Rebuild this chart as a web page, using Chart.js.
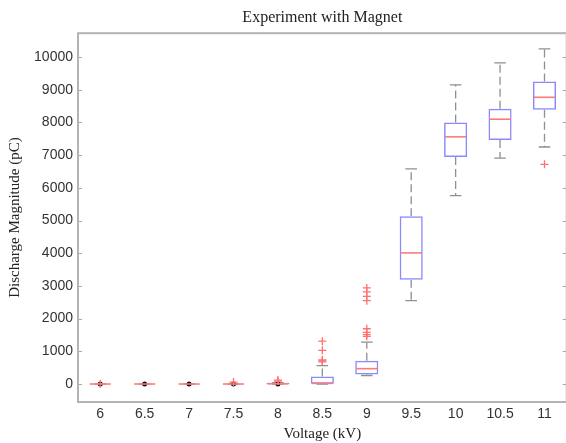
<!DOCTYPE html>
<html><head><meta charset="utf-8">
<script src="https://cdn.jsdelivr.net/npm/chart.js@4"></script>
<style>html,body{margin:0;padding:0;overflow:hidden;background:#fff}</style>
</head><body>
<canvas id="c" width="572" height="443"></canvas>
<script>
// Categories (voltage, kV)
const voltages = ['6','6.5','7','7.5','8','8.5','9','9.5','10','10.5','11'];
// Box plot statistics (pC)
const lowerWhisker = [0, 0, 0, 0, 0, 0, 260, 2550, 5760, 6910, 7250];
const q1           = [0, 0, 0, 0, 0, 5, 290, 3190, 6940, 7460, 8390];
const median       = [0, 0, 0, 0, 5, 20, 470, 4010, 7560, 8100, 8770];
const q3           = [0, 0, 0, 0, 35, 230, 710, 5130, 8000, 8420, 9250];
const upperWhisker = [0, 0, 0, 0, 40, 560, 1280, 6580, 9150, 9820, 10250];
// Outliers
const outlierX = ['6','7.5','8','8','8.5','8.5','8.5','8.5','8.5','9','9','9','9','9','9','9','9','11'];
const outlierY = [10, 60, 90, 120, 680, 710, 740, 1030, 1310, 1460, 1510, 1580, 1690, 2550, 2680, 2820, 2940, 6720];
// Black dots at zero
const dotX = ['6','6.5','7','7.5','8'];
const dotY = [0, 0, 0, 0, 0];
// Y tick labels
const yTicks = [0,1000,2000,3000,4000,5000,6000,7000,8000,9000,10000];

const boxPlugin = {
  id: 'boxparts',
  beforeDatasetsDraw(chart) {
    const ctx = chart.ctx, xs = chart.scales.x, ys = chart.scales.y;
    const meta = chart.getDatasetMeta(0);
    ctx.save();
    ctx.strokeStyle = '#8f8f8f';
    ctx.lineWidth = 1.3;
    voltages.forEach((v, i) => {
      const x = xs.getPixelForValue(i);
      const hw = meta.data[i].width / 2;
      const yU = ys.getPixelForValue(upperWhisker[i]);
      const yL = ys.getPixelForValue(lowerWhisker[i]);
      const y3 = ys.getPixelForValue(q3[i]);
      const y1 = ys.getPixelForValue(q1[i]);
      ctx.setLineDash([8, 4]);
      ctx.beginPath();
      ctx.moveTo(x, y3); ctx.lineTo(x, yU);
      ctx.moveTo(x, y1); ctx.lineTo(x, yL);
      ctx.stroke();
      ctx.setLineDash([]);
      ctx.beginPath();
      ctx.moveTo(x - hw / 2, yU); ctx.lineTo(x + hw / 2, yU);
      ctx.moveTo(x - hw / 2, yL); ctx.lineTo(x + hw / 2, yL);
      ctx.stroke();
    });
    ctx.restore();
  },
  afterDatasetDraw(chart, args) {
    if (args.index !== 0) return;
    const ctx = chart.ctx, xs = chart.scales.x, ys = chart.scales.y;
    const meta = chart.getDatasetMeta(0);
    ctx.save();
    ctx.strokeStyle = '#ff7a7a';
    ctx.lineWidth = 1.6;
    voltages.forEach((v, i) => {
      const x = xs.getPixelForValue(i);
      const hw = meta.data[i].width / 2;
      const y = ys.getPixelForValue(median[i]);
      ctx.beginPath();
      ctx.moveTo(x - hw + 1, y); ctx.lineTo(x + hw - 1, y);
      ctx.stroke();
    });
    ctx.restore();
  },
  afterDraw(chart) {
    const ctx = chart.ctx, a = chart.chartArea, ys = chart.scales.y;
    ctx.save();
    ctx.strokeStyle = '#a8a8a8';
    ctx.lineWidth = 1;
    ys.ticks.forEach(t => {
      const y = Math.round(ys.getPixelForValue(t.value)) + 0.5;
      ctx.beginPath();
      ctx.moveTo(a.left, y); ctx.lineTo(a.left + 4, y);
      ctx.moveTo(a.right, y); ctx.lineTo(a.right - 4, y);
      ctx.stroke();
    });
    ctx.lineWidth = 2;
    ctx.strokeStyle = '#b4b4b4';
    ctx.strokeRect(a.left, a.top, a.right - a.left, a.bottom - a.top);
    ctx.restore();
  }
};

new Chart(document.getElementById('c'), {
  data: {
    labels: voltages,
    datasets: [
      {
        type: 'bar',
        data: voltages.map((v, i) => [q1[i], q3[i]]),
        backgroundColor: 'rgba(0,0,0,0)',
        borderColor: '#8a8aff',
        borderWidth: 1.5,
        borderSkipped: false,
        barPercentage: 0.52,
        categoryPercentage: 1.0
      },
      {
        type: 'line',
        showLine: false,
        data: outlierX.map((x, i) => ({x: x, y: outlierY[i]})),
        pointStyle: 'cross',
        pointRadius: 4,
        borderColor: '#ff7070',
        backgroundColor: '#ff7070',
        pointBorderWidth: 1.3
      },
      {
        type: 'line',
        showLine: false,
        data: dotX.map((x, i) => ({x: x, y: dotY[i]})),
        pointStyle: 'circle',
        pointRadius: 2.5,
        borderColor: '#111',
        backgroundColor: '#111',
        pointBorderWidth: 0
      }
    ]
  },
  options: {
    responsive: false,
    animation: false,
    layout: { padding: { left: 0, right: 4, top: 0, bottom: 0 } },
    plugins: {
      legend: { display: false },
      tooltip: { enabled: false },
      title: {
        display: true,
        text: 'Experiment with Magnet',
        fullSize: false,
        color: '#222',
        font: { family: 'Liberation Serif', size: 16, weight: 'normal' },
        padding: { top: 8, bottom: 6 }
      }
    },
    scales: {
      x: {
        type: 'category',
        offset: true,
        grid: { display: false, drawTicks: false },
        border: { display: false },
        ticks: { color: '#333', font: { family: 'Liberation Sans', size: 14 }, padding: 4, maxRotation: 0, autoSkip: false },
        title: { display: true, text: 'Voltage (kV)', color: '#222', font: { family: 'Liberation Serif', size: 15 }, padding: 0 },
        afterFit: s => { s.height = 41; }
      },
      y: {
        type: 'linear',
        min: -550,
        max: 10730,
        grid: { display: false, drawTicks: false },
        border: { display: false },
        afterBuildTicks: s => { s.ticks = yTicks.map(v => ({ value: v })); },
        ticks: { color: '#333', font: { family: 'Liberation Sans', size: 14 }, padding: 5, callback: v => String(v) },
        title: { display: true, text: 'Discharge Magnitude (pC)', color: '#222', font: { family: 'Liberation Serif', size: 15 }, padding: 6 },
        afterFit: s => { s.width = 78; }
      }
    }
  },
  plugins: [boxPlugin]
});
</script>
</body></html>
